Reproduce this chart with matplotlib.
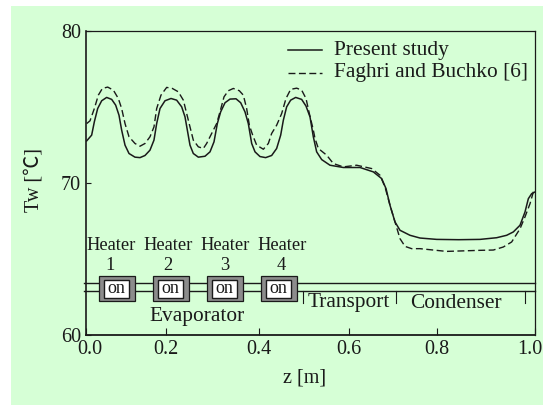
import matplotlib
matplotlib.use('Agg')
import matplotlib.pyplot as plt
from matplotlib.patches import Rectangle
from matplotlib.transforms import Affine2D, ScaledTranslation

# solid curve
z_present = [.0015, .0126, .0186, .026, .0349, .046, .0572, .0661, .0735, .0794, .0869, .0958, .1091, .1203,
	.1314, .1425, .1514, .1574, .1648, .1759, .1893, .2019, .2131, .2205, .2257, .2316, .2390, .2502, .2650,
	.2762, .2851, .2925, .2999, .3096, .3207, .3341, .3445, .3541, .3615, .3690, .3764, .3875, .4001, .4135,
	.4246, .4336, .4395, .4469, .4558, .4670, .4803, .4900, .4989, .5063, .5137, .5249, .5434, .5731, .6103,
	.6400, .6585, .6682, .6771, .6882, .6993, .7216, .7439, .781, .83, .8775, .9146, .9369, .9517, .9666,
	.9777, .9852, .9926, 1.0]
t_present = [72.77, 73.15, 74.03, 74.90, 75.41, 75.63, 75.50, 75.12, 74.46, 73.48, 72.49, 71.94, 71.70, 71.67,
	71.81, 72.16, 72.82, 73.91, 74.90, 75.41, 75.56, 75.45, 75.01, 74.35, 73.48, 72.49, 71.94, 71.70, 71.76,
	72.05, 72.71, 73.91, 74.68, 75.28, 75.52, 75.54, 75.28, 74.68, 73.91, 72.60, 72.05, 71.74, 71.67, 71.81,
	72.27, 73.15, 74.13, 75.01, 75.45, 75.63, 75.50, 75.06, 74.35, 73.04, 72.05, 71.54, 71.17, 71.02, 71.02,
	70.73, 70.29, 69.63, 68.53, 67.44, 66.89, 66.56, 66.38, 66.29, 66.27, 66.29, 66.40, 66.56, 66.78, 67.22,
	68.09, 68.97, 69.30, 69.41]

# dashed curve
z_faghri = [.0015, .0089, .0186, .0275, .0364, .0483, .0609, .0720, .0794, .0869, .0958, .1091, .1203, .1314,
	.1425, .1514, .1574, .1670, .1797, .1923, .2056, .2168, .2242, .2316, .2390, .2502, .2613, .2687, .2799,
	.2910, .2984, .3074, .3170, .3281, .3415, .3504, .3578, .3638, .3712, .3801, .3950, .4061, .4135, .4246,
	.4358, .4454, .4558, .4692, .4803, .4900, .4974, .5063, .5100, .5175, .5360, .5509, .5731, .6028, .6362,
	.6548, .6659, .6771, .6904, .6993, .7105, .7253, .7439, .803, .8775, .9072, .9295, .9480, .9666, .9777,
	.9889, .9963, 1.0]
t_faghri = [73.91, 74.09, 74.90, 75.78, 76.22, 76.31, 76.11, 75.56, 74.90, 73.91, 73.04, 72.60, 72.42, 72.60,
	73.04, 73.69, 74.90, 75.78, 76.29, 76.22, 76.00, 75.45, 74.57, 73.69, 72.82, 72.38, 72.27, 72.60, 73.26,
	73.91, 74.68, 75.67, 76.07, 76.22, 76.07, 75.78, 74.90, 73.80, 73.15, 72.49, 72.22, 72.60, 73.26, 73.80,
	74.57, 75.56, 76.16, 76.24, 76.11, 75.56, 74.57, 73.48, 72.93, 72.27, 71.83, 71.28, 71.06, 71.17, 70.95,
	70.51, 69.74, 68.53, 67.22, 66.34, 65.83, 65.68, 65.68, 65.50, 65.57, 65.59, 65.79, 66.12, 66.99, 67.77,
	68.64, 69.41, 69.6]

x_ticks = [0, .1788, .3846, .5857, .7824, 1.0]
x_labels = ['0.0', '0.2', '0.4', '0.6', '0.8', '1.0']
y_ticks = [60, 70, 80]
heater_names = ['1', '2', '3', '4']
heater_left = [98.7, 152.7, 206.7, 260.7]
heater_label_x = [111, 168, 225, 282]

BG = '#d6ffd6'
INK = '#1a1a1a'
W, H = 543, 405
DASH = (0, (5, 2.5))

plt.rcParams['font.family'] = ['Liberation Serif', 'Noto Sans CJK JP', 'DejaVu Sans']

fig = plt.figure(figsize=(W / 100, H / 100), dpi=100, facecolor='white')

# pixel coordinates for the schematic, origin top left
px = Affine2D().scale(1 / W, -1 / H).translate(0, 1) + fig.transFigure

fig.add_artist(Rectangle((11, 6), W - 11, H - 6, transform=px, fc=BG, ec='none', zorder=0))

ax = fig.add_axes([86 / W, 1 - 335 / H, 449 / W, 304 / H], facecolor='none')

ax.plot(z_present, t_present, color=INK, lw=1.1)
ax.plot(z_faghri, t_faghri, color=INK, lw=1.0, ls=DASH)

ax.set_xlim(0, 1)
ax.set_ylim(60, 80)
ax.set_xticks(x_ticks)
ax.set_xticklabels(x_labels)
ax.set_yticks(y_ticks)
ax.tick_params(direction='in', width=0.8, labelsize=14.5, colors=INK, pad=3.5)
ax.tick_params(axis='x', length=5)
ax.tick_params(axis='y', length=3.6)
for s in ax.spines.values():
	s.set_color(INK)
	s.set_linewidth(0.9)
ax.spines['left'].set_linewidth(1.2)
ax.spines['bottom'].set_linewidth(1.3)

# end labels sit inside the tick position
labels = ax.get_xticklabels()
labels[0].set_transform(labels[0].get_transform() + ScaledTranslation(4 / 100, 0, fig.dpi_scale_trans))
labels[-1].set_transform(labels[-1].get_transform() + ScaledTranslation(-5 / 100, 0, fig.dpi_scale_trans))

fig.text(305, 378, 'z [m]', transform=px, fontsize=14.5, color=INK, ha='center', va='center')
fig.text(34, 180, 'Tw [℃]', transform=px, fontsize=14.5, color=INK, ha='center', va='center', rotation=90)

# legend
fig.add_artist(plt.Line2D([288, 322], [50, 50], transform=px, color=INK, lw=1.1))
fig.add_artist(plt.Line2D([288, 322], [73, 73], transform=px, color=INK, lw=1.0, ls=DASH))
fig.text(334, 50, 'Present study', transform=px, fontsize=15.4, color=INK, va='center')
fig.text(334, 73, 'Faghri and Buchko [6]', transform=px, fontsize=15.4, color=INK, va='center')

# heat pipe schematic
fig.add_artist(plt.Line2D([84, 535], [283, 283], transform=px, color=INK, lw=1.0))
fig.add_artist(plt.Line2D([84, 535], [291, 291], transform=px, color=INK, lw=1.0))
for x0 in heater_left:
	fig.add_artist(Rectangle((x0, 276), 36.6, 24.5, transform=px, fc='#8c8c8c', ec=INK, lw=0.9, zorder=2.5))
	fig.add_artist(Rectangle((x0 + 5.6, 280), 24.4, 18, transform=px, fc='white', ec=INK, lw=1.0, zorder=2.6))
	fig.text(x0 + 17.2, 288.5, 'on', transform=px, fontsize=13, color=INK, ha='center', va='center')
for x0, name in zip(heater_label_x, heater_names):
	fig.text(x0, 245, 'Heater', transform=px, fontsize=13.3, color=INK, ha='center', va='center')
	fig.text(x0 - 0.5, 266, name, transform=px, fontsize=13.3, color=INK, ha='center', va='center')
for x0 in [302.5, 396, 525]:
	fig.add_artist(plt.Line2D([x0, x0], [291, 303], transform=px, color=INK, lw=0.8))
fig.text(197, 316, 'Evaporator', transform=px, fontsize=15.4, color=INK, ha='center', va='center')
fig.text(348.7, 303, 'Transport', transform=px, fontsize=15.4, color=INK, ha='center', va='center')
fig.text(456, 303, 'Condenser', transform=px, fontsize=15.4, color=INK, ha='center', va='center')

fig.savefig('out.png', dpi=100, facecolor='white')
